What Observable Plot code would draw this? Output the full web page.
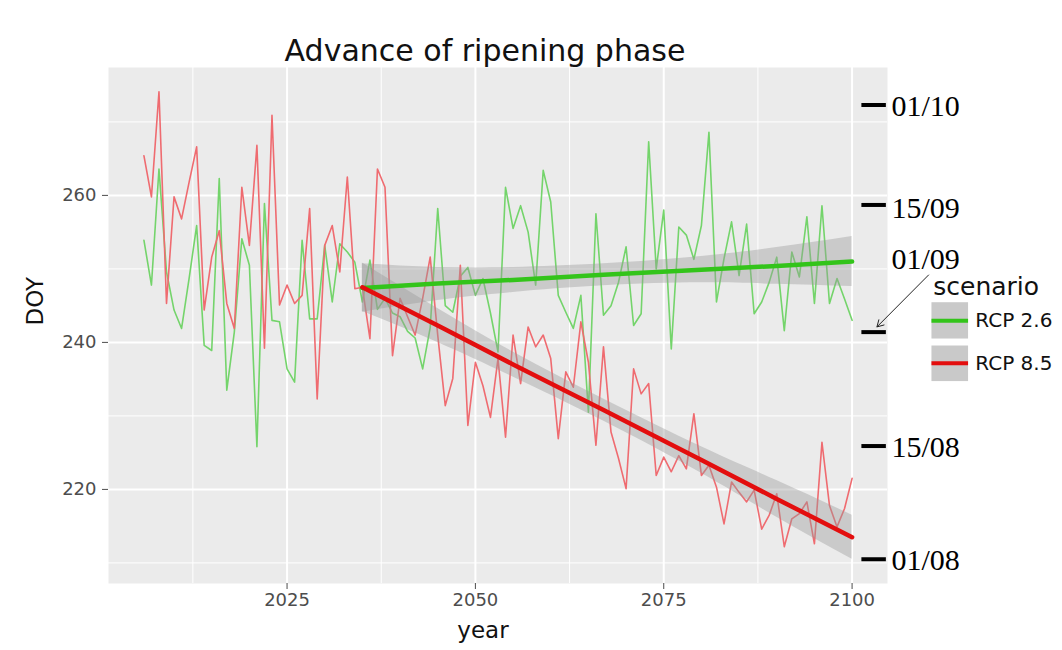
<!DOCTYPE html>
<html>
<head>
<meta charset="utf-8">
<script src="https://cdn.jsdelivr.net/npm/d3@7"></script>
<script src="https://cdn.jsdelivr.net/npm/@observablehq/plot@0.6"></script>
<style>
  body { margin: 0; background: #ffffff; }
  #chart svg { display: block; }
</style>
</head>
<body>
<div id="chart"></div>
<script>
// ---------- data ----------
const startYear = 2006;
const rcp26 = [
  253.9, 247.8, 263.6, 249.6, 244.4, 241.9, 248.7, 255.9, 239.6, 238.9,
  262.3, 233.5, 241.4, 254.1, 250.5, 225.8, 258.9, 243.0, 242.8, 236.4,
  234.6, 253.9, 243.2, 243.2, 253.2, 245.5, 253.4, 252.3, 250.9, 245.5,
  251.2, 244.5, 246.0, 244.0, 243.5, 241.5, 240.6, 236.4, 242.0, 258.2,
  245.0, 244.1, 249.0, 250.2, 246.4, 248.7, 244.0, 238.7, 261.1, 255.5,
  258.6, 255.0, 247.8, 263.4, 259.1, 246.4, 244.1, 241.9, 246.4, 230.5,
  257.5, 243.7, 245.0, 248.2, 253.0, 242.3, 243.9, 267.3, 250.0, 258.0,
  239.1, 255.7, 254.6, 251.3, 255.9, 268.6, 245.5, 251.4, 256.4, 249.1,
  256.1, 243.9, 245.5, 248.2, 251.6, 241.6, 252.3, 248.9, 257.1, 245.3,
  258.6, 245.3, 248.7, 245.9, 243.0
];
const rcp85 = [
  265.4, 259.8, 274.1, 245.3, 259.8, 256.8, 261.8, 266.6, 244.4, 251.6,
  255.2, 245.3, 241.9, 261.1, 253.2, 266.8, 239.2, 270.9, 245.1, 247.8,
  245.3, 246.4, 258.2, 232.3, 253.2, 255.9, 249.6, 262.5, 247.3, 247.5,
  240.5, 263.6, 261.1, 238.2, 246.0, 243.5, 241.0, 246.0, 251.6, 241.0,
  231.4, 235.1, 250.5, 228.7, 237.3, 234.1, 229.8, 237.8, 227.1, 241.0,
  234.4, 242.1, 239.4, 241.0, 237.8, 226.9, 236.0, 233.9, 242.8, 237.3,
  226.0, 239.4, 227.8, 224.2, 220.1, 236.4, 233.0, 234.4, 221.9, 224.4,
  222.4, 224.6, 222.8, 230.3, 221.9, 223.3, 220.3, 215.3, 221.0, 219.6,
  218.3, 219.9, 214.6, 216.5, 219.4, 212.2, 216.0, 216.7, 218.3, 212.6,
  226.4, 217.8, 214.9, 217.4, 221.5
];

// linear trend (2035-2100) and its confidence band
const fitYears = [2035, 2045, 2055, 2067, 2080, 2090, 2100];
const rcp26Fit = [247.4, 248.0, 248.5, 249.2, 249.9, 250.4, 251.0];
const rcp26Lo  = [244.1, 245.7, 246.8, 247.7, 248.1, 247.9, 247.6];
const rcp26Hi  = [250.7, 250.2, 250.2, 250.7, 251.7, 252.9, 254.4];
const rcp85Fit = [247.5, 242.3, 237.0, 230.8, 224.0, 218.7, 213.5];
const rcp85Lo  = [244.2, 240.0, 235.3, 229.3, 222.2, 216.2, 210.5];
const rcp85Hi  = [250.8, 244.6, 238.7, 232.3, 225.8, 221.2, 216.5];

// axes
const xMajor = [2025, 2050, 2075, 2100];
const xMinor = [2012.5, 2037.5, 2062.5, 2087.5];
const yMajor = [220, 240, 260];
const yMinor = [210, 230, 250, 270];

// calendar annotations on the right
const dateLabels = ["01/10", "15/09", "01/09", "15/08", "01/08"];
const dateDOY    = [272.3, 258.7, 241.4, 225.9, 210.5];
const labelDOY   = [272.1, 258.3, 251.3, 225.7, 210.4];

// legend
const scenarios = ["RCP 2.6", "RCP 8.5"];
const scenarioColors = ["#33c41a", "#e30e0e"];
const thinColors = ["#74d46b", "#ef6b70"];

// ---------- derived tables ----------
const toRows = (vals) => vals.map((v, i) => ({year: startYear + i, doy: v}));
const rows26 = toRows(rcp26);
const rows85 = toRows(rcp85);
const fit26 = fitYears.map((y, i) => ({year: y, fit: rcp26Fit[i], lo: rcp26Lo[i], hi: rcp26Hi[i]}));
const fit85 = fitYears.map((y, i) => ({year: y, fit: rcp85Fit[i], lo: rcp85Lo[i], hi: rcp85Hi[i]}));
const dates = dateLabels.map((l, i) => ({label: l, doy: dateDOY[i], ly: labelDOY[i]}));

// positions (in data units) for the annotation/legend placed outside the panel
const dashX = [2101.3, 2104.55];
const labelX = 2104.7;
const arrowSpec = [{x1: 2110.15, y1: 249.17, x2: 2103.3, y2: 242.11}];
const legTitle = {x: 2110.77, y: 247.52};
const legBoxX = [2110.6, 2115.46];
const legItems = [
  {name: scenarios[0], color: scenarioColors[0], y1: 245.40, y2: 240.46, ly: 242.95},
  {name: scenarios[1], color: scenarioColors[1], y1: 239.51, y2: 234.67, ly: 237.16}
];
const legLabelX = 2116.35;

const font = "DejaVu Sans";

const chart = Plot.plot({
  width: 1062,
  height: 650,
  marginLeft: 108,
  marginRight: 175,
  marginTop: 67,
  marginBottom: 67,
  style: {fontFamily: font, background: "#ffffff", overflow: "visible"},
  x: {domain: [2001.3, 2104.7]},
  y: {domain: [207.2, 277.4]},
  marks: [
    Plot.frame({fill: "#ebebeb", stroke: "none"}),
    Plot.ruleX(xMinor, {stroke: "#ffffff", strokeWidth: 1}),
    Plot.ruleY(yMinor, {stroke: "#ffffff", strokeWidth: 1}),
    Plot.ruleX(xMajor, {stroke: "#ffffff", strokeWidth: 2}),
    Plot.ruleY(yMajor, {stroke: "#ffffff", strokeWidth: 2}),
    Plot.axisX({ticks: xMajor, tickFormat: d => String(d), tickSize: 6, tickPadding: 4,
      fontSize: 18, color: "#4d4d4d", label: null}),
    Plot.axisY({ticks: yMajor, tickSize: 6, tickPadding: 6,
      fontSize: 18, color: "#4d4d4d", label: null}),
    // raw series
    Plot.line(rows26, {x: "year", y: "doy", stroke: thinColors[0], strokeWidth: 1.6, strokeLinejoin: "round"}),
    Plot.line(rows85, {x: "year", y: "doy", stroke: thinColors[1], strokeWidth: 1.6, strokeLinejoin: "round"}),
    // confidence bands
    Plot.areaY(fit26, {x: "year", y1: "lo", y2: "hi", fill: "#999999", fillOpacity: 0.4, curve: "natural"}),
    Plot.areaY(fit85, {x: "year", y1: "lo", y2: "hi", fill: "#999999", fillOpacity: 0.4, curve: "natural"}),
    // trend lines
    Plot.line(fit26, {x: "year", y: "fit", stroke: scenarioColors[0], strokeWidth: 4.5}),
    Plot.line(fit85, {x: "year", y: "fit", stroke: scenarioColors[1], strokeWidth: 4.5}),
    // calendar annotation
    Plot.ruleY(dates, {y: "doy", x1: dashX[0], x2: dashX[1], stroke: "#000000", strokeWidth: 4}),
    Plot.text(dates, {x: labelX, y: "ly", text: "label", textAnchor: "start", dx: 4,
      fontFamily: "Liberation Serif", fontSize: 30, fill: "#000000"}),
    Plot.arrow(arrowSpec, {x1: "x1", y1: "y1", x2: "x2", y2: "y2", stroke: "#222222",
      strokeWidth: 1, headLength: 11, bend: 0}),
    // legend
    Plot.text(["scenario"], {x: legTitle.x, y: legTitle.y, textAnchor: "start", fontSize: 25, fill: "#111111"}),
    Plot.rect(legItems, {x1: legBoxX[0], x2: legBoxX[1], y1: "y1", y2: "y2", fill: "#c9c9c9"}),
    Plot.ruleY(legItems.slice(0, 1), {y: "ly", x1: legBoxX[0], x2: legBoxX[1], stroke: scenarioColors[0], strokeWidth: 4}),
    Plot.ruleY(legItems.slice(1, 2), {y: "ly", x1: legBoxX[0], x2: legBoxX[1], stroke: scenarioColors[1], strokeWidth: 4}),
    Plot.text(legItems, {x: legLabelX, y: "ly", text: "name", textAnchor: "start", fontSize: 20, fill: "#111111"}),
    // titles
    Plot.text(["Advance of ripening phase"], {frameAnchor: "top", dy: -27.5, dx: -13, fontSize: 30, fill: "#111111"}),
    Plot.text(["year"], {frameAnchor: "bottom", dy: 54, dx: -15, fontSize: 23, fill: "#111111"}),
    Plot.text(["DOY"], {frameAnchor: "left", dx: -73, rotate: -90, fontSize: 23, fill: "#111111"})
  ]
});
document.getElementById("chart").append(chart);
</script>
</body>
</html>
